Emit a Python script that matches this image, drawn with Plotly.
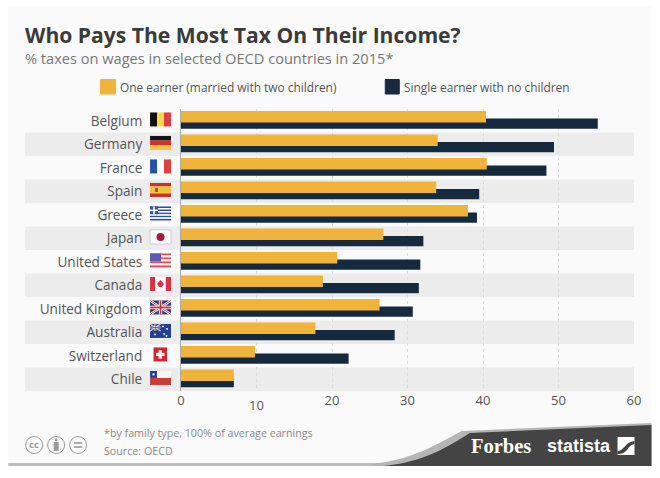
import plotly.graph_objects as go

W = 660
H = 478

countries = ["Belgium", "Germany", "France", "Spain", "Greece", "Japan", "United States",
             "Canada", "United Kingdom", "Australia", "Switzerland", "Chile"]
one_earner = [40.4, 34.0, 40.5, 33.8, 38.0, 26.8, 20.7, 18.8, 26.3, 17.8, 9.8, 7.0]
single_earner = [55.2, 49.4, 48.4, 39.5, 39.2, 32.1, 31.7, 31.5, 30.7, 28.3, 22.2, 7.0]
x_ticks = [0, 10, 20, 30, 40, 50, 60]

TITLE = "Who Pays The Most Tax On Their Income?"
SUBTITLE = "% taxes on wages in selected OECD countries in 2015*"
NAME_ONE = "One earner (married with two children)"
NAME_SINGLE = "Single earner with no children"

GOLD = "#f1b43a"
NAVY = "#15293f"
BAND = "#ececec"
CARD = "#fafafa"
TXT = "#555555"
DARK = "#444444"
FONT = "Open Sans"

# plot area in page pixels
PX0, PX1 = 181, 634.5
PY0, PY1 = 109, 391
ROW = (PY1 - PY0) / len(countries)

shapes = []
notes = []


# paper coordinates run over the plot area, so page pixels get converted here
def px(x):
    return (x - PX0) / (PX1 - PX0)


def py(y):
    return (PY1 - y) / (PY1 - PY0)


def rect(x0, y0, x1, y1, color, line=None, kind="rect"):
    shapes.append(dict(type=kind, xref="paper", yref="paper", layer="below",
                       x0=px(x0), x1=px(x1), y0=py(y0), y1=py(y1), fillcolor=color,
                       line=dict(color=line or color, width=1 if line else 0)))


def path(d, color):
    # d is a list of (cmd, x, y, ...) in page pixels
    out = ""
    for seg in d:
        out += seg[0]
        pts = seg[1:]
        out += " ".join(f"{px(pts[i]):.5f},{py(pts[i + 1]):.5f}" for i in range(0, len(pts), 2)) + " "
    shapes.append(dict(type="path", xref="paper", yref="paper", layer="below", path=out + "Z",
                       fillcolor=color, line=dict(width=0)))


def text(x, y, s, size, color=TXT, anchor="left", font=FONT, bold=False):
    if bold:
        s = f"<b>{s}</b>"
    # annotations carry about 2px of padding on the left
    notes.append(dict(text=s, xref="paper", yref="paper", x=px(x - 2), y=py(y), xanchor=anchor, yanchor="middle",
                      showarrow=False, font=dict(family=font, size=size, color=color)))


# flags ------------------------------------------------------------------------
def stripes_v(fx, fy, cols, w=21, h=14):
    for i, c in enumerate(cols):
        rect(fx + w * i / len(cols), fy, fx + w * (i + 1) / len(cols), fy + h, c)


def stripes_h(fx, fy, cols, w=21, h=14):
    for i, c in enumerate(cols):
        rect(fx, fy + h * i / len(cols), fx + w, fy + h * (i + 1) / len(cols), c)


def line(x0, y0, x1, y1, color, width):
    shapes.append(dict(type="line", xref="paper", yref="paper", layer="below", x0=px(x0), x1=px(x1),
                       y0=py(y0), y1=py(y1), line=dict(color=color, width=width)))


def union_jack(fx, fy, w, h, thin=1.0):
    rect(fx, fy, fx + w, fy + h, "#2b3f86")
    line(fx, fy, fx + w, fy + h, "white", 2.4 * thin)
    line(fx + w, fy, fx, fy + h, "white", 2.4 * thin)
    line(fx, fy, fx + w, fy + h, "#c8333f", 0.9 * thin)
    line(fx + w, fy, fx, fy + h, "#c8333f", 0.9 * thin)
    line(fx + w / 2, fy, fx + w / 2, fy + h, "white", 3.4 * thin)
    line(fx, fy + h / 2, fx + w, fy + h / 2, "white", 3.4 * thin)
    line(fx + w / 2, fy, fx + w / 2, fy + h, "#c8333f", 1.8 * thin)
    line(fx, fy + h / 2, fx + w, fy + h / 2, "#c8333f", 1.8 * thin)


def draw_flag(name, fx, fy):
    if name == "Belgium":
        stripes_v(fx, fy, ["#111111", "#f4d84e", "#df3f3f"])
    elif name == "Germany":
        stripes_h(fx, fy, ["#151515", "#d3322c", "#f3c43c"])
    elif name == "France":
        stripes_v(fx, fy, ["#2354a8", "#ffffff", "#dd4040"])
    elif name == "Spain":
        stripes_h(fx, fy, ["#c8302c", "#f1c338", "#f1c338", "#c8302c"])
        rect(fx + 5, fy + 5, fx + 8, fy + 9, "#a8552c")
    elif name == "Greece":
        stripes_h(fx, fy, ["#2c4da0", "#ffffff"] * 4 + ["#2c4da0"])
        rect(fx, fy, fx + 8, fy + 7.8, "#2c4da0")
        rect(fx + 3.2, fy, fx + 4.8, fy + 7.8, "white")
        rect(fx, fy + 3.1, fx + 8, fy + 4.7, "white")
    elif name == "Japan":
        rect(fx, fy, fx + 21, fy + 14, "white", line="#cccccc")
        rect(fx + 6.5, fy + 3, fx + 14.5, fy + 11, "#a8193f", kind="circle")
    elif name == "United States":
        stripes_h(fx, fy, ["#d9545a", "#f6e9e9"] * 3 + ["#d9545a"])
        rect(fx, fy, fx + 11, fy + 8, "#5a58b8")
    elif name == "Canada":
        stripes_v(fx, fy, ["#d8343f", "#ffffff", "#ffffff", "#d8343f"])
        path([("M", fx + 10.5, fy + 3), ("L", fx + 14, fy + 7), ("L", fx + 12, fy + 10), ("L", fx + 9, fy + 10),
              ("L", fx + 7, fy + 7)], "#d8343f")
    elif name == "United Kingdom":
        union_jack(fx, fy, 21, 14)
    elif name == "Australia":
        rect(fx, fy, fx + 21, fy + 14, "#24408e")
        union_jack(fx, fy, 10.5, 7, thin=0.5)
        for dx, dy in [(5, 10.5), (13, 2.5), (17, 5), (14, 10), (16.5, 12)]:
            rect(fx + dx - 0.9, fy + dy - 0.9, fx + dx + 0.9, fy + dy + 0.9, "white", kind="circle")
    elif name == "Switzerland":
        rect(fx + 3.5, fy, fx + 17, fy + 14, "#d5262c")
        rect(fx + 6, fy + 5.4, fx + 14.5, fy + 8.6, "white")
        rect(fx + 8.6, fy + 2.8, fx + 11.9, fy + 11.2, "white")
    elif name == "Chile":
        stripes_h(fx, fy, ["#f7f7f7", "#cc3b34"])
        rect(fx, fy, fx + 7, fy + 7, "#24408e")
        rect(fx + 2.4, fy + 2.4, fx + 4.6, fy + 4.6, "white", kind="circle")


# card and footer ---------------------------------------------------------------
rect(8, 7, 652, 466, CARD)
rect(8, 463, 400, 466, "#bdbdbd")
path([("M", 372, 464), ("C", 412, 460, 438, 444, 462, 431, 474, 424, 488, 423, 505, 423),
      ("L", 652, 423), ("L", 652, 466), ("L", 372, 466)], "#b5b5b5")
path([("M", 384, 466), ("C", 424, 462, 448, 447, 470, 433, 480, 427, 490, 425, 505, 425),
      ("L", 652, 425), ("L", 652, 466)], DARK)

text(471, 446, "Forbes", 20.5, color="white", font="Liberation Serif", bold=True)
text(547, 446, "statista", 18, color="white", font="Liberation Sans", bold=True)
rect(618, 437, 635, 455, "white")
path([("M", 618, 451), ("C", 625, 451, 625, 442, 635, 441), ("L", 635, 444), ("C", 628, 445, 628, 454, 620, 454),
      ("L", 618, 454)], DARK)

# rows --------------------------------------------------------------------------
for i, name in enumerate(countries):
    if i % 2 == 1:
        shapes.append(dict(type="rect", xref="paper", yref="y", layer="below",
                           x0=px(25), x1=px(PX1), y0=i - 0.5, y1=i + 0.5,
                           fillcolor=BAND, line=dict(width=0)))
for i, name in enumerate(countries):
    draw_flag(name, 150, PY0 + ROW * (i + 0.5) - 8.3)

# title, legend, notes ----------------------------------------------------------
text(25, 34, TITLE, 21.1, color="#3b3b3b", bold=True)
text(25, 58, SUBTITLE, 14.6, color="#777777")
rect(100.5, 79.5, 115.5, 94, GOLD, line=GOLD)
text(120, 87, NAME_ONE, 11.9)
rect(385.5, 79.5, 399.5, 94, NAVY, line=NAVY)
text(404, 87, NAME_SINGLE, 11.9)
text(104, 433, "*by family type, 100% of average earnings", 10.7, color="#888888")
text(104, 451, "Source: OECD", 10.7, color="#888888")

for cx in [34, 56, 78]:
    rect(cx - 8.5, 436.5, cx + 8.5, 453.5, "rgba(0,0,0,0)", line="#9a9a9a", kind="circle")
notes.append(dict(text="<b>cc</b>", xref="paper", yref="paper", x=px(34), y=py(444.5), xanchor="center",
                  yanchor="middle", showarrow=False, font=dict(family=FONT, size=9.5, color="#9a9a9a")))
rect(54.5, 438.5, 57.5, 441.5, "#9a9a9a", kind="circle")
rect(53.5, 442, 58.5, 451, "#9a9a9a")
rect(74, 442.2, 82, 443.8, "#9a9a9a")
rect(74, 446.2, 82, 447.8, "#9a9a9a")

# "10" sits a little lower than the other tick labels
notes.append(dict(text="10", xref="x", yref="paper", x=10, y=py(405), yanchor="middle", showarrow=False,
                  font=dict(family=FONT, size=13, color=TXT)))

fig = go.Figure()
fig.add_trace(go.Bar(y=countries, x=single_earner, name=NAME_SINGLE, orientation="h",
                     marker=dict(color=NAVY, line=dict(width=0)), offset=-0.10, width=0.445))
fig.add_trace(go.Bar(y=countries, x=one_earner, name=NAME_ONE, orientation="h",
                     marker=dict(color=GOLD, line=dict(width=0)), offset=-0.415, width=0.49))

fig.update_xaxes(range=[0, 60], tickvals=x_ticks, ticktext=["" if t == 10 else str(t) for t in x_ticks],
                 showgrid=True, gridcolor="#dddddd", griddash="dot", gridwidth=1, zeroline=False,
                 showline=False, ticks="", tickfont=dict(family=FONT, size=13, color=TXT))
fig.update_yaxes(type="category", categoryorder="array", categoryarray=countries, range=[11.5, -0.5],
                 showgrid=False, zeroline=False, showline=True, linecolor="#aaaaaa", linewidth=1,
                 ticks="outside", ticklen=35, tickcolor="rgba(0,0,0,0)",
                 tickfont=dict(family=FONT, size=13.6, color=TXT))

fig.update_layout(
    barmode="overlay",
    width=W,
    height=H,
    margin=dict(l=PX0, r=W - PX1, t=PY0, b=H - PY1, pad=0),
    paper_bgcolor="white",
    plot_bgcolor="rgba(0,0,0,0)",
    showlegend=False,
    shapes=shapes,
    annotations=notes,
)

fig.write_html("out.html", config=dict(displayModeBar=False), post_script="document.body.style.margin='0';")
